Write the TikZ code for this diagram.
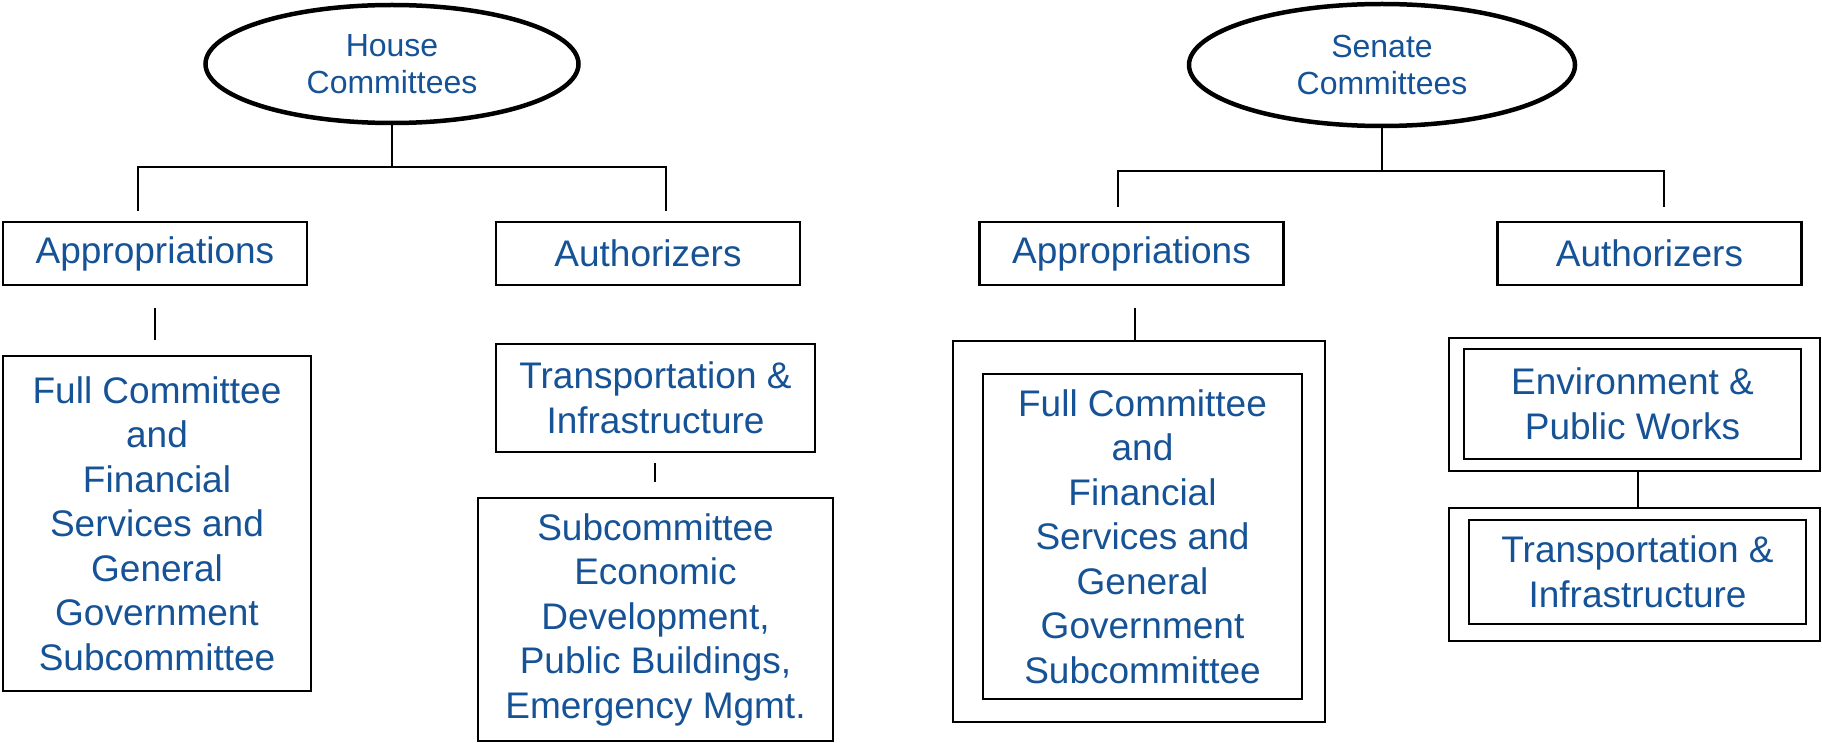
\documentclass[tikz,border=0pt]{standalone}
\usepackage{fontspec}
\setmainfont{Liberation Sans}
\usetikzlibrary{shapes,positioning}
\definecolor{cmtblue}{RGB}{22,82,150}

\tikzset{
  chamber/.style={ellipse,draw,line width=4.5pt,inner sep=0pt,text=cmtblue,align=center,font=\fontsize{32}{37}\selectfont},
  panel/.style={rectangle,draw,line width=2.2pt,inner sep=0pt,text=cmtblue,align=center,font=\fontsize{37}{44.5}\selectfont},
  frame/.style={rectangle,draw,line width=2.2pt,inner sep=0pt},
  link/.style={line width=1.8pt}
}

\begin{document}
\begin{tikzpicture}[x=1pt,y=-1pt]
        \useasboundingbox (0,0) rectangle (1822,743);

        \node[chamber,minimum width=373pt,minimum height=118pt] (house) at (392,64) {House\\Committees};
        \node[panel,minimum width=304pt,minimum height=63pt] (happ) at (155,253.5) {Appropriations};
        \node[panel,minimum width=304pt,minimum height=63pt] (hauth) at (648,253.5) {Authorizers};
        \node[panel,minimum width=308pt,minimum height=335pt] (hfull) at (157,523.5) {Full Committee\\and\\Financial\\Services and\\General\\Government\\Subcommittee};
        \node[panel,minimum width=319pt,minimum height=108pt] (htrans) at (655.5,398) {Transportation \&\\Infrastructure};
        \node[panel,minimum width=355pt,minimum height=243pt] (hsub) at (655.5,619.5) {Subcommittee\\Economic\\Development,\\Public Buildings,\\Emergency Mgmt.};

        \coordinate (hjoin) at (392,167);
        \coordinate (hleft) at (138,211);
        \coordinate (hright) at (666,211);
        \coordinate (happtop) at (155,308);
        \coordinate (happbot) at (155,340);
        \coordinate (htranstop) at (655,463);
        \coordinate (htransbot) at (655,482);

        \draw[link] (house.south) -- (hjoin);
        \draw[link] (hleft) |- (hjoin) -| (hright);
        \draw[link] (happtop) -- (happbot);
        \draw[link] (htranstop) -- (htransbot);

        \node[chamber,minimum width=386pt,minimum height=122pt] (senate) at (1382,65) {Senate\\Committees};
        \node[panel,minimum width=304pt,minimum height=63pt] (sapp) at (1131.5,253.5) {Appropriations};
        \node[panel,minimum width=304pt,minimum height=63pt] (sauth) at (1649.5,253.5) {Authorizers};
        \node[frame,minimum width=372pt,minimum height=381pt] (sfullout) at (1139,531.5) {};
        \node[panel,minimum width=319pt,minimum height=325pt] (sfull) at (1142.5,536.5) {Full Committee\\and\\Financial\\Services and\\General\\Government\\Subcommittee};
        \node[frame,minimum width=371pt,minimum height=133pt] (senvout) at (1634.5,404.5) {};
        \node[panel,minimum width=337pt,minimum height=110pt] (senv) at (1632.5,404) {Environment \&\\Public Works};
        \node[frame,minimum width=371pt,minimum height=133pt] (strnout) at (1634.5,574.5) {};
        \node[panel,minimum width=337pt,minimum height=104pt] (strn) at (1637.5,572) {Transportation \&\\Infrastructure};

        \coordinate (sjoin) at (1382,171);
        \coordinate (sleft) at (1118,207);
        \coordinate (sright) at (1664,207);
        \coordinate (sapptop) at (1135,308);

        \draw[link] (senate.south) -- (sjoin);
        \draw[link] (sleft) |- (sjoin) -| (sright);
        \draw[link] (sapptop) -- (sapptop |- sfullout.north);
        \draw[link] ([xshift=3.5pt]senvout.south) -- ([xshift=3.5pt]strnout.north);
\end{tikzpicture}
\end{document}
